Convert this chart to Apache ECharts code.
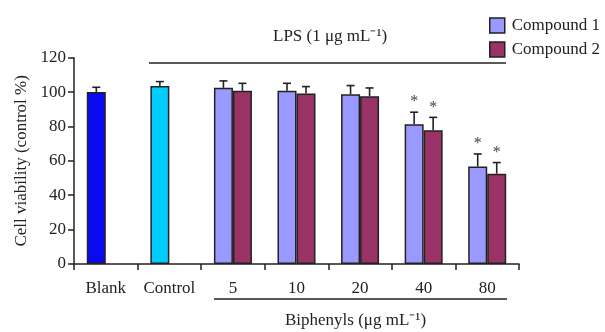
<!DOCTYPE html>
<html><head><meta charset="utf-8">
<script src="https://cdn.jsdelivr.net/npm/echarts@6/dist/echarts.min.js"></script>
<style>html,body{margin:0;padding:0;background:#fff}#c{width:605px;height:332px}</style>
</head><body><div id="c"></div>
<script>
const categories = ['Blank', 'Control', '5', '10', '20', '40', '80'];
const compound1 = [100, 103.5, 102.5, 100.8, 98.8, 81.3, 56.7];
const compound1Err = [2.8, 2.6, 4.0, 4.3, 5.0, 7.0, 7.3];
const compound2 = [null, null, 100.8, 99.2, 97.6, 77.8, 52.5];
const compound2Err = [null, null, 4.3, 4.0, 4.8, 7.5, 6.5];
const compound1Star = [false, false, false, false, false, true, true];
const compound2Star = [false, false, false, false, false, true, true];
const yTicks = [0, 20, 40, 60, 80, 100, 120];

const FONT = '"Liberation Serif", "Times New Roman", serif';
const BAR_W = 19;
const pointColors = ['#0a0af0', '#00ccff'];

const chart = echarts.init(document.getElementById('c'), null, {renderer: 'canvas'});

function errSeries(vals, errs, stars, offset) {
  const data = vals.map((v, i) => v == null ? null : [i, v, errs[i], stars[i] ? 1 : 0]).filter(d => d);
  return {
    type: 'custom',
    z: 5,
    data: data,
    renderItem: function (params, api) {
      const i = api.value(0), v = api.value(1), e = api.value(2), s = api.value(3);
      const p0 = api.coord([i, v]);
      const p1 = api.coord([i, v + e]);
      const x = p0[0] + offset;
      const children = [
        {type: 'line', shape: {x1: x, y1: p0[1], x2: x, y2: p1[1]}, style: {stroke: '#222', lineWidth: 1.6}},
        {type: 'line', shape: {x1: x - 4, y1: p1[1], x2: x + 4, y2: p1[1]}, style: {stroke: '#222', lineWidth: 1.6}}
      ];
      if (s) {
        children.push({type: 'text', style: {text: '*', x: x, y: p1[1] - 2, fill: '#444', font: '16px ' + FONT, textAlign: 'center', textVerticalAlign: 'bottom'}});
      }
      return {type: 'group', children: children};
    }
  };
}

const c1Data = compound1.map((v, i) => i < 2 ? {value: v, itemStyle: {color: pointColors[i]}} : v);
const c2Data = compound2.map(v => v == null ? '-' : v);

const option = {
  animation: false,
  textStyle: {fontFamily: FONT},
  grid: {left: 74, right: 86, top: 57.7, bottom: 68, containLabel: false},
  legend: {
    orient: 'vertical', left: 484, top: 12, itemWidth: 15, itemHeight: 15, itemGap: 7,
    icon: 'rect',
    itemStyle: {borderColor: '#222', borderWidth: 1.5},
    textStyle: {fontFamily: FONT, fontSize: 17, color: '#222', padding: [0, 0, 0, 2]},
    data: ['Compound 1', 'Compound 2']
  },
  xAxis: {
    type: 'category', data: categories,
    axisLine: {lineStyle: {color: '#222', width: 1.5}},
    axisTick: {show: true, length: 6, lineStyle: {color: '#222', width: 1.5}},
    axisLabel: {fontFamily: FONT, fontSize: 17, color: '#222', margin: 16, interval: 0}
  },
  yAxis: {
    type: 'value', min: 0, max: 120, interval: 20,
    name: 'Cell viability (control %)', nameLocation: 'middle', nameGap: 44, nameRotate: 90,
    nameTextStyle: {fontFamily: FONT, fontSize: 17, color: '#222'},
    axisLine: {show: true, lineStyle: {color: '#222', width: 1.5}},
    axisTick: {show: true, length: 6, lineStyle: {color: '#222', width: 1.5}},
    axisLabel: {fontFamily: FONT, fontSize: 17, color: '#222', margin: 8,
      formatter: v => yTicks.includes(v) ? String(v) : ''},
    splitLine: {show: false}
  },
  series: [
    {name: 'Compound 1', type: 'bar', data: c1Data, barWidth: BAR_W, barGap: '0%',
      itemStyle: {color: '#9999ff', borderColor: '#222', borderWidth: 1.5}},
    {name: 'Compound 2', type: 'bar', data: c2Data, barWidth: BAR_W, barGap: '0%',
      itemStyle: {color: '#993366', borderColor: '#222', borderWidth: 1.5}},
    errSeries(compound1, compound1Err, compound1Star, -BAR_W / 2),
    errSeries(compound2, compound2Err, compound2Star, BAR_W / 2)
  ],
  graphic: [
    {type: 'line', shape: {x1: 149, y1: 63, x2: 506, y2: 63}, style: {stroke: '#222', lineWidth: 1.5}},
    {type: 'text', left: 273, top: 28, style: {text: 'LPS (1 μg mL⁻¹)', font: '17px ' + FONT, fill: '#222'}},
    {type: 'line', shape: {x1: 214, y1: 299, x2: 507, y2: 299}, style: {stroke: '#222', lineWidth: 1.5}},
    {type: 'text', left: 285, top: 312, style: {text: 'Biphenyls (μg mL⁻¹)', font: '17px ' + FONT, fill: '#222'}}
  ]
};
chart.setOption(option);
</script></body></html>
